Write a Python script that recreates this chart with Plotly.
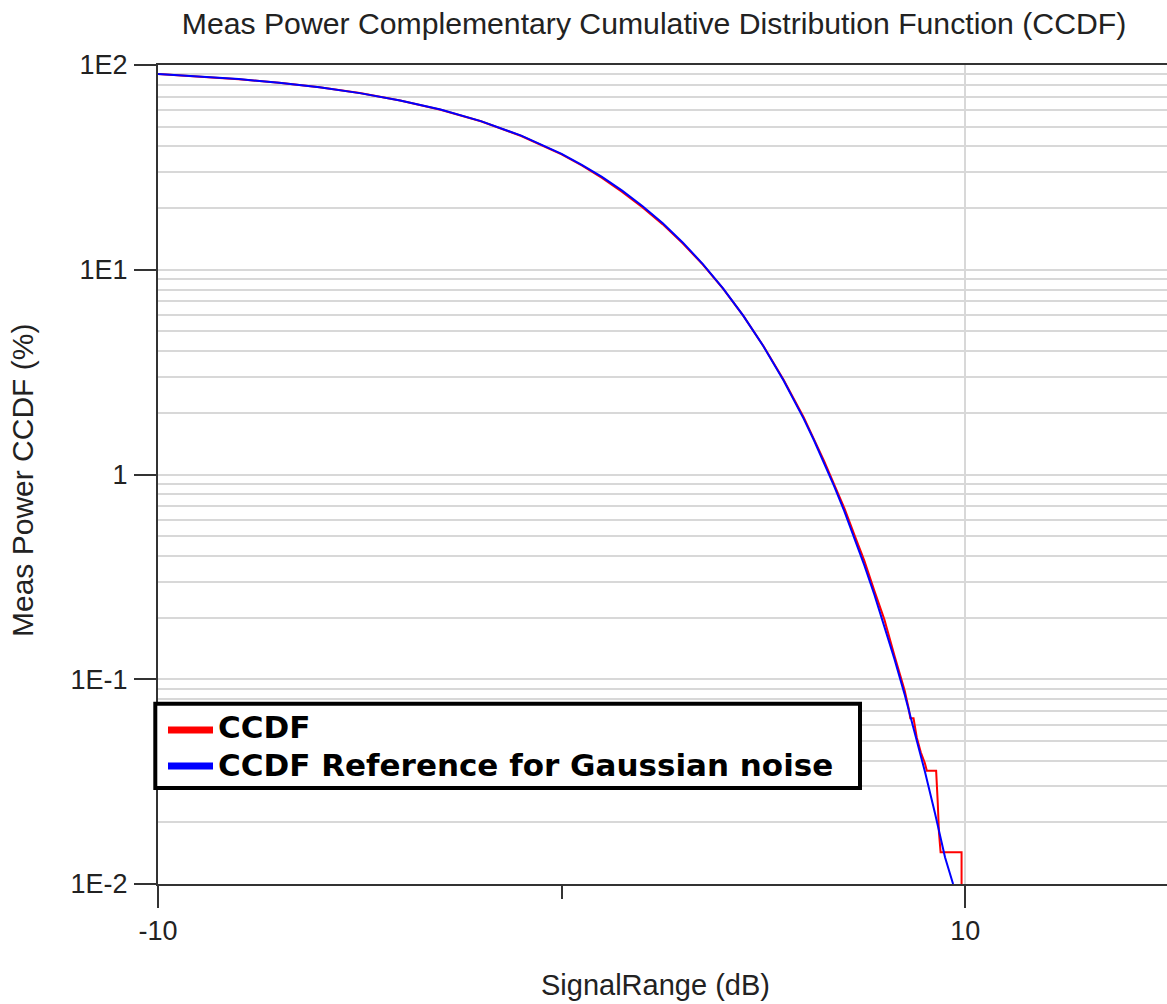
import plotly.graph_objects as go

# ---- data ----
ccdf_x = [-10, -9, -8, -7, -6, -5, -4, -3, -2, -1, 0, 0.5, 1, 1.5, 2, 2.5, 3, 3.5, 4, 4.5,
          5, 5.5, 6, 6.5, 7, 7.25, 7.5, 7.75, 8, 8.25, 8.5, 8.6, 8.64, 8.72, 8.8, 8.9, 9.0,
          9.05, 9.28, 9.32, 9.35, 9.39, 9.91, 9.91]
ccdf_y = [90.5, 88.2, 85.3, 81.9, 77.8, 72.9, 67.1, 60.5, 53.1, 45.0, 36.6, 32.3, 28.1, 24.0,
          20.2, 16.7, 13.45, 10.6, 8.08, 5.97, 4.24, 2.9, 1.9, 1.17, 0.69, 0.51, 0.38, 0.27,
          0.195, 0.13, 0.088, 0.072, 0.0645, 0.0645, 0.052, 0.044, 0.039, 0.0357, 0.0357,
          0.0249, 0.0178, 0.0143, 0.0143, 0.01]

ref_x = [-10, -9, -8, -7, -6, -5, -4, -3, -2, -1, 0, 0.5, 1, 1.5, 2, 2.5, 3, 3.5, 4, 4.5,
         5, 5.5, 6, 6.25, 6.5, 6.75, 7, 7.25, 7.5, 7.75, 8, 8.25, 8.5, 8.75, 9, 9.25, 9.5, 9.7]
ref_y = [90.48, 88.17, 85.34, 81.91, 77.79, 72.89, 67.16, 60.58, 53.21, 45.19, 36.79, 32.56,
         28.39, 24.34, 20.50, 16.90, 13.60, 10.66, 8.11, 5.97, 4.23, 2.88, 1.87, 1.474, 1.15,
         0.881, 0.666, 0.495, 0.361, 0.2586, 0.182, 0.125, 0.0843, 0.0553, 0.0355, 0.0222,
         0.0135, 0.0100]

series_names = ["CCDF", "CCDF Reference for Gaussian noise"]
series_colors = ["#ff0000", "#0000ff"]

y_major = [0.01, 0.1, 1, 10, 100]
y_major_text = ["1E-2", "1E-1", "1", "1E1", "1E2"]
y_minor = [m * d for d in [0.01, 0.1, 1, 10] for m in range(2, 10)]
x_major = [-10, 10]
x_major_text = ["-10", "10"]
x_minor = [0]

FONT = "Liberation Sans, Arial, sans-serif"
LEGFONT = "DejaVu Sans, Liberation Sans, Arial, sans-serif"
TXT = "#222222"
AX = "#333333"
GRID = "#d8d8d8"

fig = go.Figure()
fig.add_trace(go.Scatter(x=ccdf_x, y=ccdf_y, mode="lines", name=series_names[0],
                         line=dict(color=series_colors[0], width=2), showlegend=False))
fig.add_trace(go.Scatter(x=ref_x, y=ref_y, mode="lines", name=series_names[1],
                         line=dict(color=series_colors[1], width=2), showlegend=False))

# plot area geometry in px (for placing the hand-drawn legend and titles)
L, R, T, B = 158, 1167, 65, 884
W, H = R - L, B - T
def px(x):
    return (x - L) / W
def py(y):
    return (B - y) / H

shapes = [
    dict(type="rect", xref="paper", yref="paper", x0=px(155.3), x1=px(860), y0=py(788), y1=py(703.7),
         line=dict(color="black", width=4), fillcolor="white", layer="above"),
    dict(type="line", xref="paper", yref="paper", x0=px(168), x1=px(213), y0=py(730), y1=py(730),
         line=dict(color=series_colors[0], width=7), layer="above"),
    dict(type="line", xref="paper", yref="paper", x0=px(168), x1=px(213), y0=py(766), y1=py(766),
         line=dict(color=series_colors[1], width=7), layer="above"),
]

annotations = [
    dict(text="<b>" + series_names[0] + "</b>", xref="paper", yref="paper", x=px(216), y=py(727),
         xanchor="left", yanchor="middle", showarrow=False,
         font=dict(family=LEGFONT, size=31, color="black")),
    dict(text="<b>" + series_names[1] + "</b>", xref="paper", yref="paper", x=px(216), y=py(765),
         xanchor="left", yanchor="middle", showarrow=False,
         font=dict(family=LEGFONT, size=31, color="black")),
    dict(text="SignalRange (dB)", xref="paper", yref="paper", x=px(655), y=py(985),
         xanchor="center", yanchor="middle", showarrow=False,
         font=dict(family=FONT, size=29, color=TXT)),
    dict(text="Meas Power CCDF (%)", xref="paper", yref="paper", x=px(22), y=py(481),
         xanchor="center", yanchor="middle", showarrow=False, textangle=-90,
         font=dict(family=FONT, size=30, color=TXT)),
]

fig.update_layout(
    width=1167, height=1004,
    margin=dict(l=L, r=1167 - R, t=T, b=1004 - B),
    paper_bgcolor="white", plot_bgcolor="white",
    title=dict(text="Meas Power Complementary Cumulative Distribution Function (CCDF)",
               x=654 / 1167, xref="container", xanchor="center",
               y=1 - 23 / 1004, yref="container", yanchor="middle",
               font=dict(family=FONT, size=30.2, color=TXT)),
    showlegend=False,
    shapes=shapes,
    annotations=annotations,
    xaxis=dict(range=[-10, 15], showline=True, linecolor=AX, linewidth=2, mirror=True,
               ticks="outside", ticklen=22, tickwidth=2, tickcolor=AX,
               tickmode="array", tickvals=x_major, ticktext=x_major_text,
               tickfont=dict(family=FONT, size=27, color=TXT),
               showgrid=True, gridcolor=GRID, gridwidth=2, zeroline=False,
               minor=dict(tickmode="array", tickvals=x_minor, ticks="outside", ticklen=13,
                          tickwidth=2, tickcolor=AX, showgrid=False)),
    yaxis=dict(type="log", range=[-2, 2], showline=True, linecolor=AX, linewidth=2,
               ticks="outside", ticklen=22, tickwidth=2, tickcolor=AX,
               tickmode="array", tickvals=y_major, ticktext=y_major_text,
               tickfont=dict(family=FONT, size=27, color=TXT), ticklabelstandoff=1,
               showgrid=True, gridcolor=GRID, gridwidth=2, zeroline=False,
               minor=dict(tickmode="array", tickvals=y_minor, ticks="",
                          showgrid=True, gridcolor=GRID, gridwidth=2)),
)

fig.write_html("out.html")
